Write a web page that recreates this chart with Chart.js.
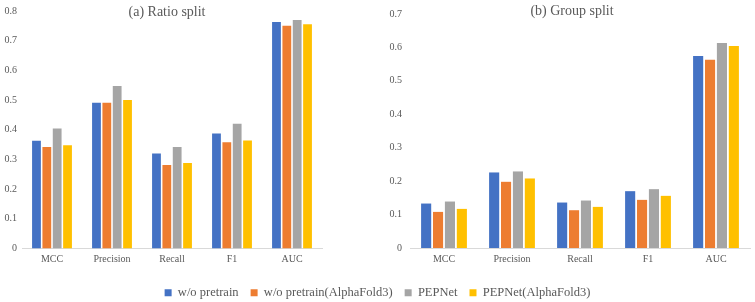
<!DOCTYPE html>
<html>
<head>
<meta charset="utf-8">
<script src="https://cdn.jsdelivr.net/npm/chart.js@4.4.1/dist/chart.umd.min.js"></script>
<style>
  html, body { margin: 0; padding: 0; background: #fff; }
  #wrap { position: relative; width: 755px; height: 302px; }
  #ratioChart { position: absolute; left: 0; top: 0; }
  #groupChart { position: absolute; left: 377px; top: 0; }
</style>
</head>
<body>
<div id="wrap">
  <canvas id="ratioChart" width="755" height="302"></canvas>
  <canvas id="groupChart" width="378" height="302"></canvas>
</div>
<script>
const metrics = ['MCC', 'Precision', 'Recall', 'F1', 'AUC'];
const seriesNames = ['w/o pretrain', 'w/o pretrain(AlphaFold3)', 'PEPNet', 'PEPNet(AlphaFold3)'];
const seriesColors = ['#4472C4', '#ED7D31', '#A5A5A5', '#FFC000'];

// (a) Ratio split
const ratioNoPretrain = [0.363, 0.491, 0.320, 0.387, 0.763];
const ratioNoPretrainAF3 = [0.342, 0.491, 0.281, 0.358, 0.750];
const ratioPEPNet = [0.404, 0.547, 0.342, 0.420, 0.770];
const ratioPEPNetAF3 = [0.348, 0.500, 0.288, 0.364, 0.755];

// (b) Group split
const groupNoPretrain = [0.133, 0.226, 0.136, 0.170, 0.574];
const groupNoPretrainAF3 = [0.108, 0.198, 0.113, 0.144, 0.563];
const groupPEPNet = [0.139, 0.229, 0.142, 0.176, 0.613];
const groupPEPNetAF3 = [0.117, 0.208, 0.123, 0.156, 0.604];

const ratioMax = 0.8;
const groupMax = 0.7;

Chart.defaults.font.family = "'Liberation Serif', 'Times New Roman', serif";
Chart.defaults.color = '#595959';

// Excel-style title drawn over the top of the plot area
const panelTitle = {
    id: 'panelTitle',
    afterDraw(chart, args, opts) {
        const ctx = chart.ctx;
        ctx.save();
        ctx.font = "14px 'Liberation Serif', 'Times New Roman', serif";
        ctx.fillStyle = '#595959';
        ctx.textAlign = 'center';
        ctx.textBaseline = 'middle';
        ctx.fillText(opts.text, opts.x, opts.y);
        ctx.restore();
    }
};

function makeDatasets(values, catPct) {
    return values.map(function(data, i) {
        return {
            label: seriesNames[i],
            data: data,
            backgroundColor: seriesColors[i],
            borderWidth: 0,
            categoryPercentage: catPct,
            barPercentage: 0.85
        };
    });
}

function xAxis(height) {
    return {
        grid: { display: false, drawTicks: false },
        border: { color: '#D9D9D9', width: 1 },
        ticks: { padding: 5, font: { size: 10 } },
        afterFit: function(s) { s.height = height; }
    };
}

function yAxis(max, width, pad) {
    return {
        min: 0,
        max: max,
        ticks: { stepSize: 0.1, padding: pad, font: { size: 10 } },
        grid: { display: false, drawTicks: false },
        border: { display: false },
        afterFit: function(s) { s.width = width; }
    };
}

const ratioChart = new Chart(document.getElementById('ratioChart'), {
    type: 'bar',
    data: {
        labels: metrics,
        datasets: makeDatasets([ratioNoPretrain, ratioNoPretrainAF3, ratioPEPNet, ratioPEPNetAF3], 0.69)
    },
    options: {
        responsive: false,
        animation: false,
        layout: { padding: { top: 9, right: 0, bottom: -7, left: 0 } },
        scales: {
            x: xAxis(26),
            y: yAxis(ratioMax, 22, 5),
            // empty axis that keeps the right half free for panel (b)
            spacer: {
                type: 'linear',
                position: 'right',
                grid: { display: false, drawTicks: false },
                border: { display: false },
                ticks: { display: false },
                afterFit: function(s) { s.width = 433; }
            }
        },
        plugins: {
            legend: {
                position: 'bottom',
                labels: {
                    boxWidth: 7,
                    boxHeight: 7,
                    padding: 12,
                    color: '#595959',
                    font: { size: 12.5 }
                }
            },
            tooltip: { enabled: false },
            panelTitle: { text: '(a) Ratio split', x: 167, y: 12 }
        }
    },
    plugins: [panelTitle]
});

const groupChart = new Chart(document.getElementById('groupChart'), {
    type: 'bar',
    data: {
        labels: metrics,
        datasets: makeDatasets([groupNoPretrain, groupNoPretrainAF3, groupPEPNet, groupPEPNetAF3], 0.70)
    },
    options: {
        responsive: false,
        animation: false,
        layout: { padding: { top: 7, right: 5, bottom: 0, left: 0 } },
        scales: {
            x: xAxis(54),
            y: yAxis(groupMax, 33, 8)
        },
        plugins: {
            legend: { display: false },
            tooltip: { enabled: false },
            panelTitle: { text: '(b) Group split', x: 195, y: 11 }
        }
    },
    plugins: [panelTitle]
});
</script>
</body>
</html>
